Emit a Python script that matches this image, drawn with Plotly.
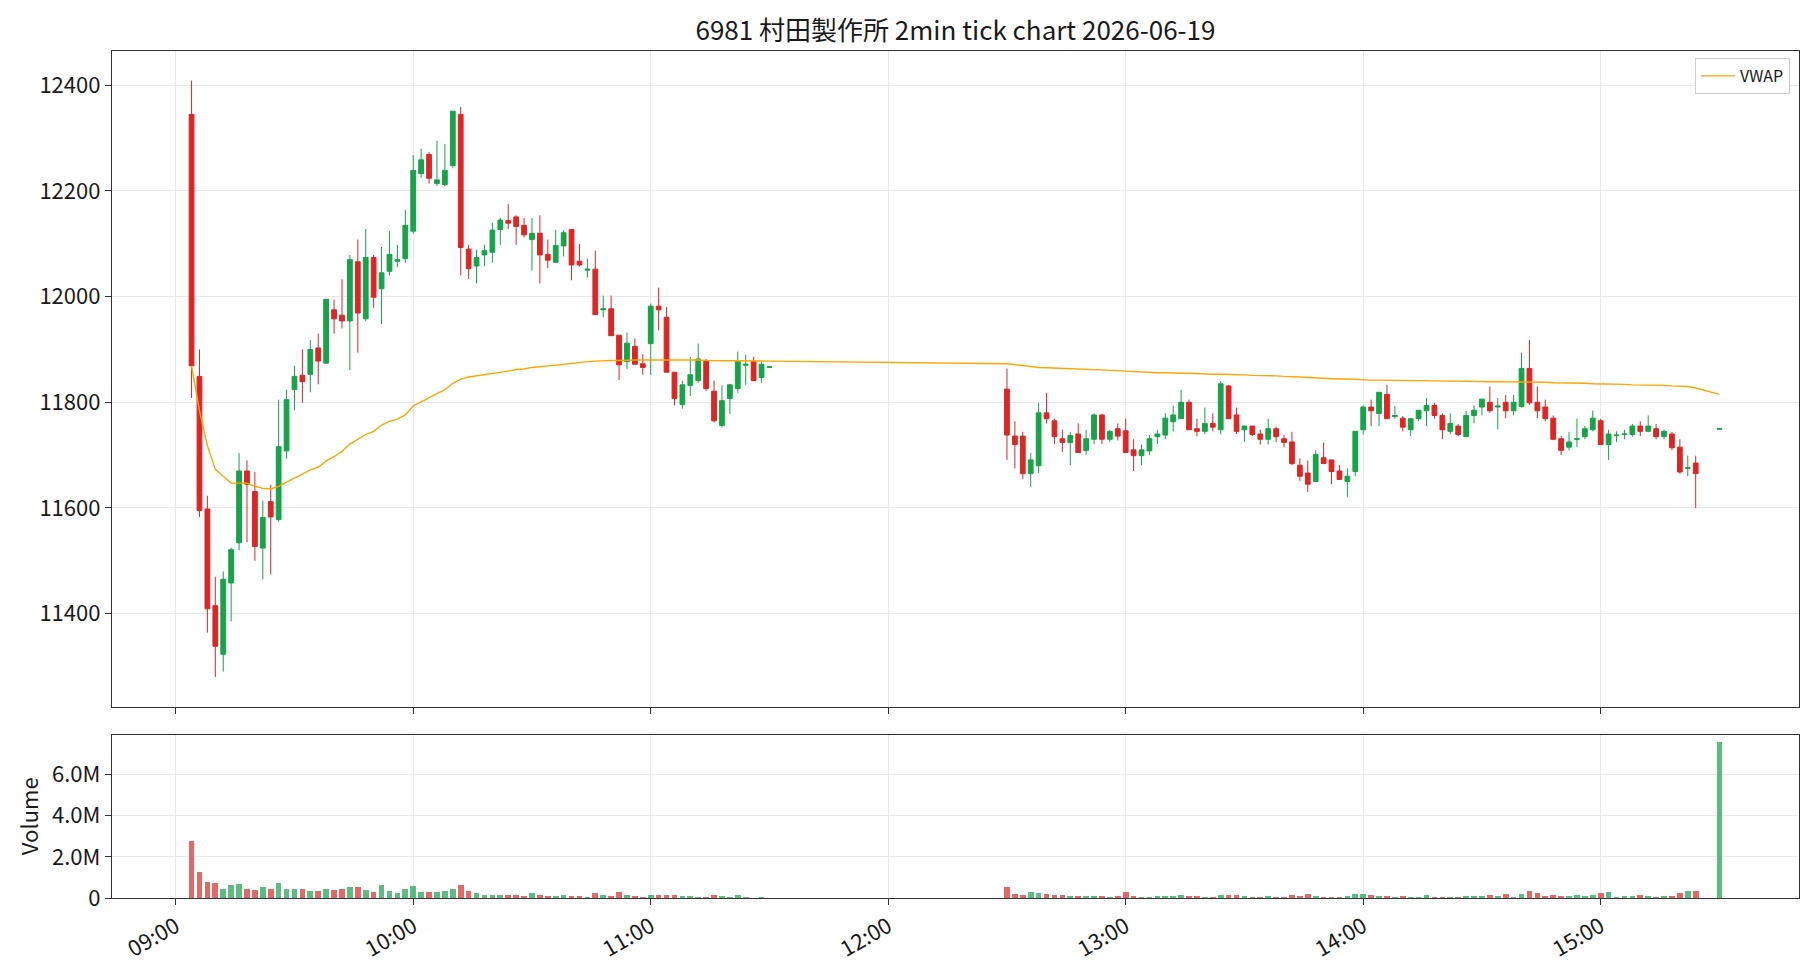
import plotly.graph_objects as go

DATE = "2026-06-19"
TITLE = "6981 村田製作所 2min tick chart 2026-06-19"

# ---------------- morning session ----------------
am_times = ["09:04", "09:06", "09:08", "09:10", "09:12", "09:14", "09:16", "09:18", "09:20", "09:22",
            "09:24", "09:26", "09:28", "09:30", "09:32", "09:34", "09:36", "09:38", "09:40", "09:42",
            "09:44", "09:46", "09:48", "09:50", "09:52", "09:54", "09:56", "09:58", "10:00", "10:02",
            "10:04", "10:06", "10:08", "10:10", "10:12", "10:14", "10:16", "10:18", "10:20", "10:22",
            "10:24", "10:26", "10:28", "10:30", "10:32", "10:34", "10:36", "10:38", "10:40", "10:42",
            "10:44", "10:46", "10:48", "10:50", "10:52", "10:54", "10:56", "10:58", "11:00", "11:02",
            "11:04", "11:06", "11:08", "11:10", "11:12", "11:14", "11:16", "11:18", "11:20", "11:22",
            "11:24", "11:26", "11:28", "11:30"]
am_open = [12345, 11849, 11598, 11415, 11323, 11458, 11534, 11670, 11631, 11524,
           11612, 11578, 11708, 11824, 11851, 11853, 11903, 11874, 11975, 11965,
           11954, 12066, 11958, 12074, 12015, 12048, 12067, 12072, 12124, 12233,
           12269, 12214, 12212, 12248, 12345, 12090, 12058, 12079, 12084, 12127,
           12144, 12151, 12135, 12108, 12120, 12080, 12065, 12096, 12127, 12067,
           12050, 12052, 11975, 11977, 11927, 11877, 11906, 11873, 11911, 11982,
           11961, 11857, 11796, 11832, 11841, 11879, 11821, 11756, 11807, 11826,
           11870, 11877, 11847, 11866]
am_high = [12409, 11900, 11623, 11470, 11480, 11525, 11704, 11690, 11668, 11614,
           11644, 11805, 11824, 11869, 11900, 11918, 11930, 11995, 11994, 12033,
           12079, 12108, 12128, 12079, 12094, 12124, 12098, 12164, 12268, 12280,
           12274, 12295, 12289, 12351, 12359, 12098, 12089, 12098, 12140, 12149,
           12175, 12154, 12149, 12149, 12154, 12108, 12126, 12126, 12127, 12100,
           12072, 12087, 12002, 12002, 11927, 11932, 11921, 11891, 11987, 12017,
           11980, 11857, 11841, 11886, 11911, 11882, 11841, 11832, 11835, 11896,
           11890, 11886, 11877, 11867]
am_low = [11808, 11583, 11364, 11280, 11290, 11385, 11520, 11535, 11500, 11465,
          11474, 11574, 11693, 11785, 11799, 11819, 11834, 11874, 11930, 11940,
          11861, 11894, 11954, 11979, 11948, 12040, 12056, 12064, 12119, 12225,
          12214, 12209, 12209, 12243, 12040, 12033, 12025, 12058, 12064, 12098,
          12128, 12098, 12112, 12049, 12025, 12054, 12065, 12076, 12031, 12057,
          12036, 11966, 11961, 11926, 11842, 11863, 11872, 11852, 11852, 11936,
          11857, 11794, 11788, 11812, 11837, 11821, 11762, 11752, 11778, 11818,
          11833, 11841, 11837, 11866]
am_close = [11869, 11595, 11409, 11338, 11465, 11521, 11670, 11645, 11527, 11582,
            11583, 11716, 11805, 11849, 11839, 11900, 11878, 11995, 11958, 11954,
            12070, 11969, 12074, 11999, 12045, 12080, 12070, 12135, 12239, 12259,
            12224, 12221, 12239, 12351, 12093, 12053, 12074, 12087, 12126, 12145,
            12139, 12133, 12117, 12120, 12079, 12069, 12097, 12121, 12060, 12060,
            12052, 11966, 11977, 11926, 11871, 11912, 11872, 11866, 11982, 11975,
            11857, 11807, 11833, 11852, 11882, 11826, 11765, 11803, 11833, 11877,
            11872, 11841, 11872, 11867]
am_volume_m = [2.81, 1.26, 0.82, 0.73, 0.44, 0.63, 0.68, 0.44, 0.39, 0.53,
               0.44, 0.77, 0.44, 0.48, 0.48, 0.34, 0.34, 0.48, 0.39, 0.48,
               0.53, 0.53, 0.39, 0.29, 0.63, 0.34, 0.24, 0.44, 0.58, 0.29,
               0.29, 0.29, 0.34, 0.44, 0.63, 0.34, 0.24, 0.18, 0.18, 0.18,
               0.18, 0.18, 0.13, 0.24, 0.18, 0.13, 0.13, 0.18, 0.13, 0.13,
               0.08, 0.24, 0.18, 0.13, 0.29, 0.18, 0.13, 0.08, 0.18, 0.18,
               0.18, 0.18, 0.13, 0.13, 0.08, 0.08, 0.18, 0.13, 0.08, 0.18,
               0.08, 0.04, 0.08, 0.04]
am_vwap = [11869, 11784, 11718, 11673, 11660, 11647, 11647, 11647, 11641, 11637,
           11636, 11641, 11649, 11656, 11664, 11672, 11677, 11689, 11697, 11707,
           11721, 11730, 11739, 11745, 11757, 11764, 11768, 11776, 11793, 11801,
           11809, 11816, 11824, 11836, 11844, 11848, 11850, 11852, 11854, 11856,
           11859, 11862, 11863, 11866, 11868, 11869, 11870, 11872, 11874, 11875,
           11877, 11878, 11879, 11879, 11879, 11880, 11880, 11880, 11880, 11881,
           11880, 11880, 11880, 11880, 11880, 11879, 11879, 11879, 11879, 11879,
           11879, 11878, 11878, 11878]

# ---------------- afternoon session ----------------
pm_times = ["12:30", "12:32", "12:34", "12:36", "12:38", "12:40", "12:42", "12:44", "12:46", "12:48",
            "12:50", "12:52", "12:54", "12:56", "12:58", "13:00", "13:02", "13:04", "13:06", "13:08",
            "13:10", "13:12", "13:14", "13:16", "13:18", "13:20", "13:22", "13:24", "13:26", "13:28",
            "13:30", "13:32", "13:34", "13:36", "13:38", "13:40", "13:42", "13:44", "13:46", "13:48",
            "13:50", "13:52", "13:54", "13:56", "13:58", "14:00", "14:02", "14:04", "14:06", "14:08",
            "14:10", "14:12", "14:14", "14:16", "14:18", "14:20", "14:22", "14:24", "14:26", "14:28",
            "14:30", "14:32", "14:34", "14:36", "14:38", "14:40", "14:42", "14:44", "14:46", "14:48",
            "14:50", "14:52", "14:54", "14:56", "14:58", "15:00", "15:02", "15:04", "15:06", "15:08",
            "15:10", "15:12", "15:14", "15:16", "15:18", "15:20", "15:22", "15:24", "15:30"]
pm_open = [11825, 11736, 11736, 11665, 11680, 11780, 11765, 11731, 11724, 11740,
           11709, 11730, 11776, 11730, 11750, 11746, 11710, 11699, 11708, 11735,
           11738, 11763, 11769, 11800, 11750, 11745, 11760, 11748, 11831, 11776,
           11748, 11755, 11740, 11730, 11750, 11731, 11725, 11681, 11666, 11650,
           11695, 11691, 11670, 11650, 11669, 11748, 11791, 11779, 11815, 11773,
           11770, 11748, 11769, 11784, 11794, 11775, 11745, 11755, 11735, 11775,
           11791, 11800, 11791, 11800, 11784, 11792, 11864, 11800, 11791, 11770,
           11731, 11715, 11730, 11735, 11748, 11765, 11720, 11737, 11739, 11739,
           11755, 11745, 11750, 11735, 11740, 11715, 11675, 11685, 11749]
pm_high = [11864, 11764, 11744, 11704, 11799, 11818, 11769, 11748, 11744, 11760,
           11748, 11779, 11778, 11748, 11760, 11769, 11730, 11720, 11738, 11748,
           11779, 11794, 11824, 11805, 11769, 11790, 11779, 11840, 11833, 11790,
           11755, 11755, 11748, 11769, 11754, 11738, 11744, 11694, 11690, 11709,
           11724, 11691, 11681, 11675, 11745, 11794, 11805, 11819, 11833, 11793,
           11774, 11769, 11785, 11808, 11799, 11779, 11779, 11759, 11784, 11794,
           11806, 11830, 11808, 11814, 11814, 11894, 11918, 11830, 11805, 11775,
           11736, 11744, 11769, 11755, 11784, 11769, 11748, 11745, 11748, 11759,
           11764, 11775, 11759, 11748, 11744, 11730, 11699, 11699, 11750]
pm_low = [11691, 11675, 11655, 11640, 11666, 11760, 11721, 11706, 11681, 11705,
          11700, 11721, 11721, 11725, 11728, 11705, 11670, 11681, 11700, 11721,
          11730, 11745, 11769, 11748, 11736, 11740, 11745, 11740, 11769, 11740,
          11725, 11736, 11720, 11720, 11725, 11715, 11681, 11651, 11630, 11650,
          11684, 11645, 11654, 11621, 11660, 11739, 11755, 11755, 11769, 11769,
          11745, 11736, 11764, 11755, 11769, 11730, 11740, 11736, 11735, 11760,
          11775, 11780, 11749, 11770, 11775, 11790, 11795, 11770, 11764, 11730,
          11700, 11709, 11715, 11730, 11745, 11720, 11691, 11725, 11730, 11735,
          11736, 11745, 11730, 11730, 11709, 11665, 11660, 11600, 11749]
pm_close = [11738, 11720, 11665, 11691, 11780, 11769, 11735, 11724, 11737, 11705,
            11731, 11776, 11730, 11745, 11736, 11705, 11699, 11710, 11731, 11740,
            11770, 11776, 11800, 11748, 11745, 11760, 11753, 11835, 11769, 11745,
            11755, 11739, 11730, 11750, 11735, 11724, 11684, 11660, 11645, 11701,
            11684, 11669, 11654, 11660, 11745, 11791, 11784, 11819, 11769, 11775,
            11753, 11769, 11785, 11794, 11775, 11748, 11760, 11739, 11775, 11785,
            11806, 11784, 11793, 11784, 11800, 11864, 11799, 11784, 11769, 11730,
            11709, 11725, 11731, 11750, 11770, 11720, 11740, 11738, 11740, 11755,
            11745, 11755, 11735, 11745, 11714, 11668, 11676, 11665, 11750]
pm_volume_m = [0.57, 0.23, 0.18, 0.32, 0.27, 0.23, 0.18, 0.18, 0.13, 0.13,
               0.13, 0.13, 0.13, 0.08, 0.13, 0.32, 0.13, 0.08, 0.08, 0.13,
               0.13, 0.13, 0.18, 0.13, 0.13, 0.08, 0.08, 0.18, 0.18, 0.18,
               0.13, 0.08, 0.08, 0.13, 0.08, 0.08, 0.18, 0.13, 0.23, 0.13,
               0.08, 0.08, 0.08, 0.13, 0.23, 0.23, 0.18, 0.13, 0.13, 0.08,
               0.13, 0.08, 0.08, 0.18, 0.08, 0.08, 0.08, 0.08, 0.13, 0.13,
               0.13, 0.18, 0.13, 0.23, 0.08, 0.23, 0.37, 0.27, 0.13, 0.18,
               0.13, 0.13, 0.18, 0.13, 0.18, 0.27, 0.32, 0.08, 0.13, 0.13,
               0.18, 0.13, 0.08, 0.13, 0.13, 0.27, 0.37, 0.37, 7.61]
pm_vwap = [11873, 11871, 11869, 11867, 11866, 11865.5, 11865, 11864.5, 11864, 11863,
           11862, 11862, 11861, 11861, 11860, 11859, 11858, 11858, 11857, 11856,
           11856, 11855, 11855, 11855, 11854, 11854, 11853, 11853, 11853, 11852,
           11852, 11851, 11851, 11850, 11850, 11849, 11849, 11848, 11847, 11846,
           11846, 11845, 11844, 11844, 11843, 11843, 11842, 11842, 11841.5, 11841,
           11841, 11841, 11841, 11840.5, 11840, 11840, 11840, 11840, 11839.5, 11839.5,
           11839, 11839, 11839, 11839, 11839, 11839, 11838.5, 11838, 11838, 11837,
           11837, 11836.5, 11836, 11836, 11835, 11835, 11834.5, 11834, 11834, 11833,
           11833, 11832.5, 11832, 11832, 11831, 11831, 11830, 11827, 11815]

# ---------------- axis ticks ----------------
price_ticks = [11400, 11600, 11800, 12000, 12200, 12400]
price_tick_text = ["11400", "11600", "11800", "12000", "12200", "12400"]
volume_ticks = [0, 2e6, 4e6, 6e6]
volume_tick_text = ["0", "2.0M", "4.0M", "6.0M"]
hour_labels = ["09:00", "10:00", "11:00", "12:00", "13:00", "14:00", "15:00"]

times = am_times + pm_times
opens = am_open + pm_open
highs = am_high + pm_high
lows = am_low + pm_low
closes = am_close + pm_close
volumes = [v * 1e6 for v in am_volume_m + pm_volume_m]
vwap = am_vwap + pm_vwap

x = [f"{DATE} {t}:00" for t in times]
hour_ticks = [f"{DATE} {h}:00" for h in hour_labels]

UP = "#16a34a"
DOWN = "#dc2626"
UP_VOL = "rgba(22,163,74,0.70)"
DOWN_VOL = "rgba(220,38,38,0.70)"
vol_colors = [UP_VOL if c >= o else DOWN_VOL for o, c in zip(opens, closes)]

FONT = "Noto Sans CJK JP, Noto Sans, sans-serif"
TXT = "#1a1a1a"
GRID = "#e9e9e9"
FRAME = "#333333"
TICK_SIZE = 22

fig = go.Figure()
fig.add_trace(go.Candlestick(
    x=x, open=opens, high=highs, low=lows, close=closes,
    increasing=dict(line=dict(color=UP, width=1), fillcolor=UP),
    decreasing=dict(line=dict(color=DOWN, width=1), fillcolor=DOWN),
    whiskerwidth=0, showlegend=False, xaxis="x", yaxis="y", name="6981",
))
fig.add_trace(go.Scatter(
    x=x, y=vwap, mode="lines", name="VWAP",
    line=dict(color="#FFA500", width=1.4), xaxis="x", yaxis="y",
))
fig.add_trace(go.Bar(
    x=x, y=volumes, marker=dict(color=vol_colors, line=dict(width=0)),
    width=86000, showlegend=False, xaxis="x2", yaxis="y2", name="Volume",
))

x_range = [f"{DATE} 08:43:54", f"{DATE} 15:50:06"]

common_x = dict(
    type="date", range=x_range, tickvals=hour_ticks, ticktext=hour_labels,
    showgrid=True, gridcolor=GRID, gridwidth=1,
    showline=True, linecolor=FRAME, linewidth=1.3, mirror=True,
    ticks="outside", ticklen=6, tickwidth=1.2, tickcolor=FRAME,
    zeroline=False,
)
common_y = dict(
    showgrid=True, gridcolor=GRID, gridwidth=1,
    showline=True, linecolor=FRAME, linewidth=1.3, mirror=True,
    ticks="outside", ticklen=6, tickwidth=1.2, tickcolor=FRAME,
    zeroline=False, tickfont=dict(size=TICK_SIZE, color=TXT, family=FONT),
)

fig.update_layout(
    width=1820, height=980,
    margin=dict(l=111.5, r=21, t=51, b=81.5, pad=0),
    paper_bgcolor="white", plot_bgcolor="white",
    font=dict(family=FONT, size=TICK_SIZE, color=TXT),
    title=dict(text=TITLE, x=0.5, xref="paper", xanchor="center",
               y=1 - 31 / 980, yref="container", yanchor="middle",
               font=dict(size=26, color=TXT, family=FONT)),
    boxgap=0.14,
    bargap=0,
    showlegend=True,
    legend=dict(x=0.9947, y=0.9918, xanchor="right", yanchor="top",
                bgcolor="white", bordercolor="#cccccc", borderwidth=1,
                font=dict(size=16, color=TXT, family=FONT), itemwidth=34,
                tracegroupgap=0),
    xaxis=dict(**common_x, anchor="y", showticklabels=False,
               rangeslider=dict(visible=False)),
    xaxis2=dict(**common_x, anchor="y2", matches="x", showticklabels=True,
                tickangle=-30, tickfont=dict(size=TICK_SIZE, color=TXT, family=FONT)),
    yaxis=dict(**common_y, domain=[0.2260, 1.0], range=[11224, 12465],
               tickvals=price_ticks, ticktext=price_tick_text),
    yaxis2=dict(**common_y, domain=[0.0, 0.1929], range=[0, 7.94e6],
                tickvals=volume_ticks, ticktext=volume_tick_text,
                title=dict(text="Volume", standoff=7,
                           font=dict(size=TICK_SIZE, color=TXT, family=FONT))),
)

fig.write_html("out.html")
